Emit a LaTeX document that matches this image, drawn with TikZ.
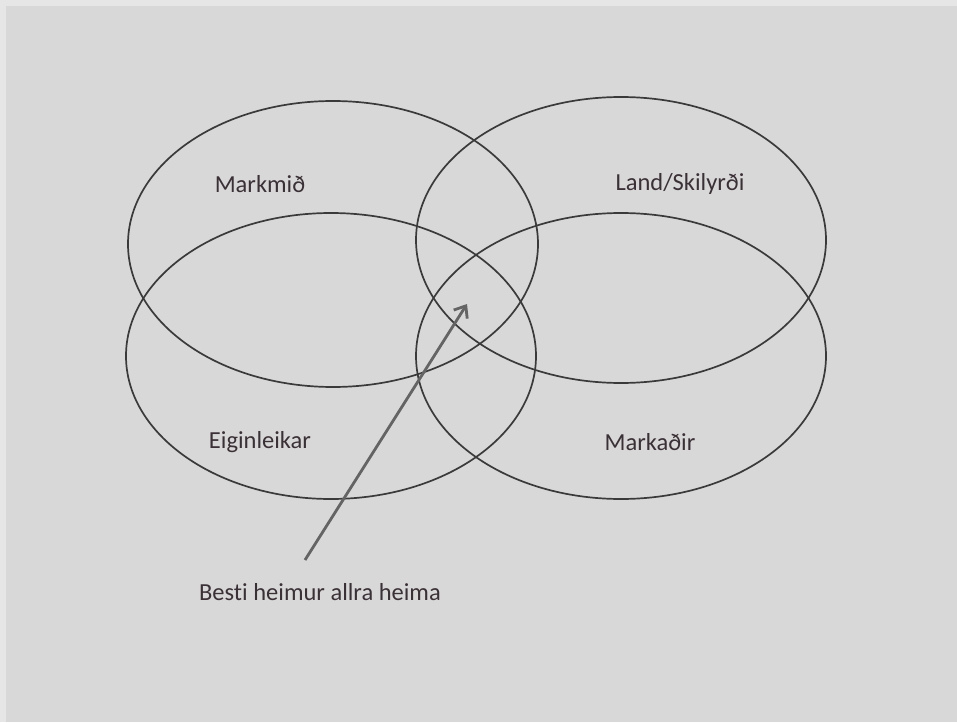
\documentclass[tikz,border=0pt]{standalone}
\usepackage{fontspec}
\setmainfont[Ligatures=NoCommon]{Carlito}
\usepackage{xcolor}
\usetikzlibrary{positioning,arrows.meta,shapes.geometric}
\definecolor{canvas}{HTML}{D8D8D8}
\definecolor{rim}{HTML}{E6E6E6}
\definecolor{ring}{HTML}{3A3A3A}
\definecolor{ink}{HTML}{3A3036}
\definecolor{pointer}{HTML}{646464}

\begin{document}
\begin{tikzpicture}[x=1pt, y=-1pt,
    every node/.style={font=\fontsize{24.5}{28}\selectfont, text=ink},
    set/.style={draw=ring, line width=1.7pt, ellipse, minimum width=410pt, minimum height=286pt, inner sep=0pt},
    tag/.style={inner sep=2pt},
    arrow/.style={-{Straight Barb[length=10pt, width=16pt, line width=2.8pt]}, line width=2.8pt, draw=pointer},
]
% Background
\fill[rim] (0,0) rectangle (957,722);
\fill[canvas] (6,6) rectangle (957,722);
\useasboundingbox (0,0) rectangle (957,722);

% Sets
\node[set] (goal) at (333,244) {};
\node[set] (land) at (621,240) {};
\node[set] (trait) at (331,356) {};
\node[set] (market) at (621,356) {};

% Labels
\node[tag] (goaltxt) at (260,184) {Markmið};
\node[tag] (landtxt) at (680,184) {Land/Skilyrði};
\node[tag] (traittxt) at (260,442) {Eiginleikar};
\node[tag] (markettxt) at (650,442) {Markaðir};
\node[tag] (best) at (320,592) {Besti heimur allra heima};

% Arrow
\coordinate (tail) at (305,560);
\coordinate (tip) at (467,304);
\draw[arrow] (tail) -- (tip);

\end{tikzpicture}
\end{document}
